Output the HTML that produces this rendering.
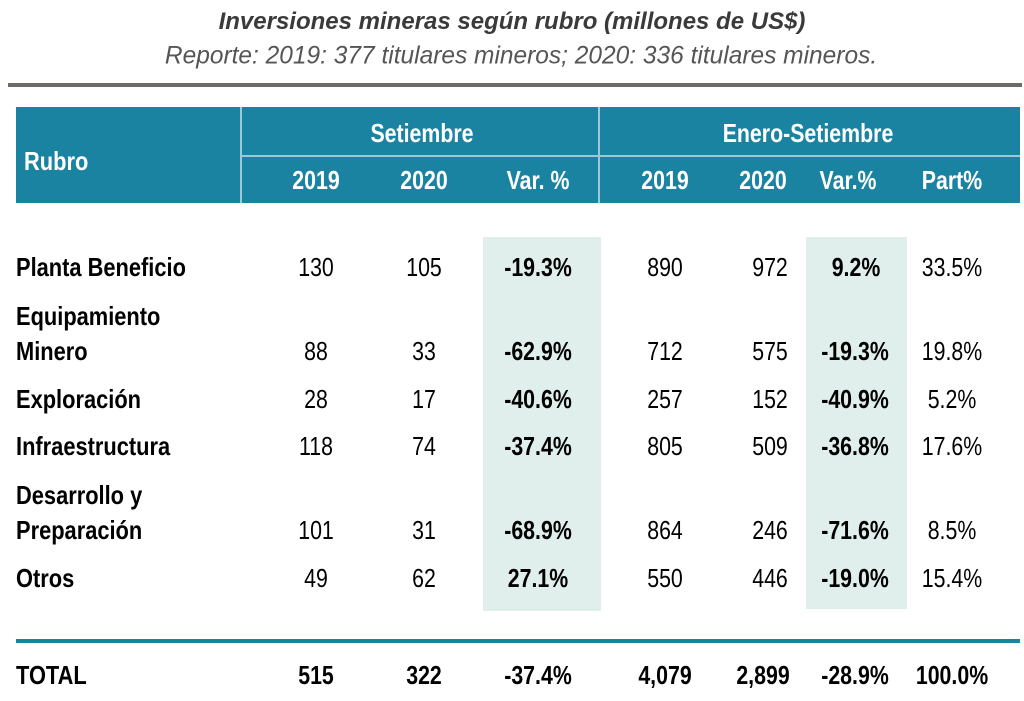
<!DOCTYPE html>
<html><head><meta charset="utf-8"><style>
body{margin:0;width:1024px;height:701px;background:#fff;position:relative;overflow:hidden;font-family:"Liberation Sans",Arial,sans-serif}
.t{position:absolute;white-space:nowrap;transform:translate(-50%,-50%) scaleX(0.82);font-size:26px;color:#000;line-height:1}
.l{position:absolute;white-space:nowrap;transform-origin:left center;transform:translateY(-50%) scaleX(0.84);font-size:26px;font-weight:bold;line-height:1}
.b{font-weight:bold}
.w{color:#fff;font-weight:bold}
.box{position:absolute}
</style></head><body>
<div class="t" style="left:512px;top:22px;font-size:24px;font-style:italic;font-weight:bold;color:#3a3a3a;transform:translate(-50%,-50%) scaleX(1.0)">Inversiones mineras según rubro (millones de US$)</div>
<div class="t" style="left:521px;top:56px;font-size:25px;font-style:italic;color:#555;transform:translate(-50%,-50%) scaleX(0.98)">Reporte: 2019: 377 titulares mineros; 2020: 336 titulares mineros.</div>
<div class="box" style="left:8px;top:83px;width:1014px;height:4px;background:#6e6a68"></div>

<div class="box" style="left:16px;top:107px;width:1004px;height:96px;background:#1b83a2"></div>
<div class="box" style="left:240px;top:107px;width:2px;height:96px;background:#9cc9d8"></div>
<div class="box" style="left:598px;top:107px;width:2px;height:96px;background:#9cc9d8"></div>
<div class="box" style="left:241px;top:155px;width:779px;height:2px;background:#9cc9d8"></div>
<div class="l w" style="left:24px;top:161px">Rubro</div>
<div class="t w" style="left:422px;top:133px">Setiembre</div>
<div class="t w" style="left:808px;top:133px">Enero-Setiembre</div>
<div class="t w" style="left:316px;top:180px">2019</div>
<div class="t w" style="left:424px;top:180px">2020</div>
<div class="t w" style="left:538px;top:180px">Var. %</div>
<div class="t w" style="left:665px;top:180px">2019</div>
<div class="t w" style="left:763px;top:180px">2020</div>
<div class="t w" style="left:848px;top:180px">Var.%</div>
<div class="t w" style="left:952px;top:180px">Part%</div>

<div class="box" style="left:483px;top:237px;width:118px;height:374px;background:#e0efeb"></div>
<div class="box" style="left:806px;top:237px;width:101px;height:372px;background:#e0efeb"></div>

<div class="l" style="left:16px;top:267px">Planta Beneficio</div>
<div class="l" style="left:16px;top:316px">Equipamiento</div>
<div class="l" style="left:16px;top:351px">Minero</div>
<div class="l" style="left:16px;top:399px">Exploración</div>
<div class="l" style="left:16px;top:446px">Infraestructura</div>
<div class="l" style="left:16px;top:495px">Desarrollo y</div>
<div class="l" style="left:16px;top:530px">Preparación</div>
<div class="l" style="left:16px;top:578px">Otros</div>

<div class="t" style="left:316px;top:267px">130</div><div class="t" style="left:424px;top:267px">105</div><div class="t b" style="left:538px;top:267px">-19.3%</div><div class="t" style="left:665px;top:267px">890</div><div class="t" style="left:770px;top:267px">972</div><div class="t b" style="left:856px;top:267px">9.2%</div><div class="t" style="left:952px;top:267px">33.5%</div>
<div class="t" style="left:316px;top:351px">88</div><div class="t" style="left:424px;top:351px">33</div><div class="t b" style="left:538px;top:351px">-62.9%</div><div class="t" style="left:665px;top:351px">712</div><div class="t" style="left:770px;top:351px">575</div><div class="t b" style="left:855px;top:351px">-19.3%</div><div class="t" style="left:952px;top:351px">19.8%</div>
<div class="t" style="left:316px;top:399px">28</div><div class="t" style="left:424px;top:399px">17</div><div class="t b" style="left:538px;top:399px">-40.6%</div><div class="t" style="left:665px;top:399px">257</div><div class="t" style="left:770px;top:399px">152</div><div class="t b" style="left:855px;top:399px">-40.9%</div><div class="t" style="left:952px;top:399px">5.2%</div>
<div class="t" style="left:316px;top:446px">118</div><div class="t" style="left:424px;top:446px">74</div><div class="t b" style="left:538px;top:446px">-37.4%</div><div class="t" style="left:665px;top:446px">805</div><div class="t" style="left:770px;top:446px">509</div><div class="t b" style="left:855px;top:446px">-36.8%</div><div class="t" style="left:952px;top:446px">17.6%</div>
<div class="t" style="left:316px;top:530px">101</div><div class="t" style="left:424px;top:530px">31</div><div class="t b" style="left:538px;top:530px">-68.9%</div><div class="t" style="left:665px;top:530px">864</div><div class="t" style="left:770px;top:530px">246</div><div class="t b" style="left:855px;top:530px">-71.6%</div><div class="t" style="left:952px;top:530px">8.5%</div>
<div class="t" style="left:316px;top:578px">49</div><div class="t" style="left:424px;top:578px">62</div><div class="t b" style="left:538px;top:578px">27.1%</div><div class="t" style="left:665px;top:578px">550</div><div class="t" style="left:770px;top:578px">446</div><div class="t b" style="left:855px;top:578px">-19.0%</div><div class="t" style="left:952px;top:578px">15.4%</div>

<div class="box" style="left:16px;top:639px;width:1004px;height:4px;background:#1b83a2"></div>
<div class="l" style="left:16px;top:675px">TOTAL</div>
<div class="t b" style="left:316px;top:675px">515</div><div class="t b" style="left:424px;top:675px">322</div><div class="t b" style="left:538px;top:675px">-37.4%</div><div class="t b" style="left:665px;top:675px">4,079</div><div class="t b" style="left:763px;top:675px">2,899</div><div class="t b" style="left:855px;top:675px">-28.9%</div><div class="t b" style="left:952px;top:675px">100.0%</div>
</body></html>
